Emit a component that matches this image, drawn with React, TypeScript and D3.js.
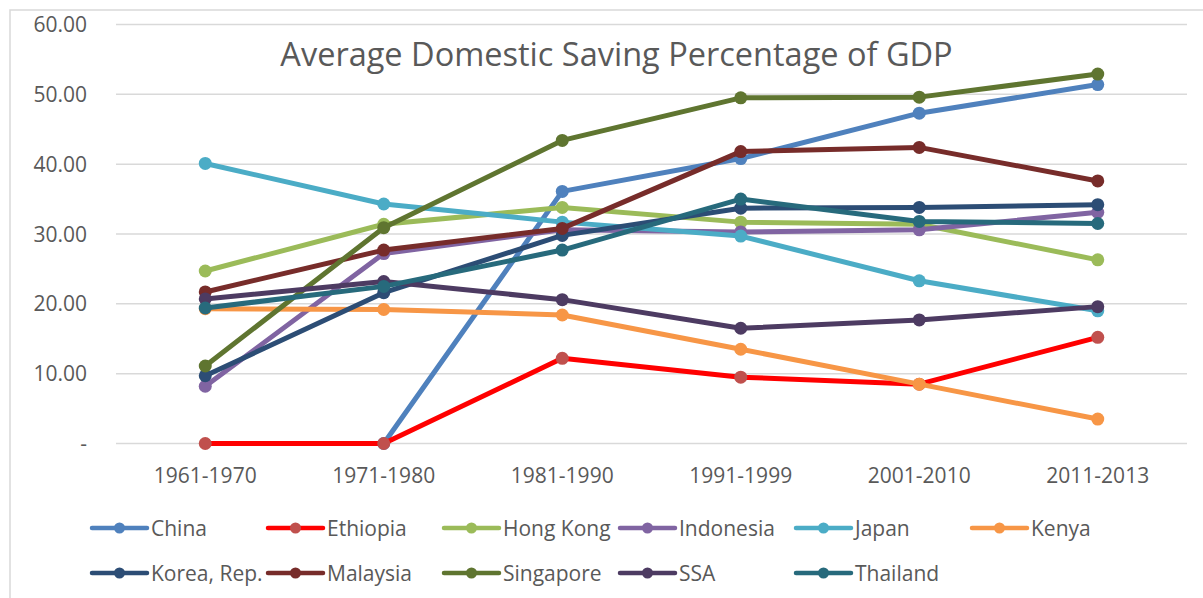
import * as d3 from 'd3'

const PERIODS = ['1961-1970', '1971-1980', '1981-1990', '1991-1999', '2001-2010', '2011-2013']
const SERIES = ['China', 'Ethiopia', 'Hong Kong', 'Indonesia', 'Japan', 'Kenya', 'Korea, Rep.', 'Malaysia', 'Singapore', 'SSA', 'Thailand']

const china = [null, 0, 36.1, 40.8, 47.3, 51.4]
const ethiopia = [0, 0, 12.2, 9.5, 8.5, 15.2]
const hongKong = [24.7, 31.4, 33.8, 31.7, 31.4, 26.3]
const indonesia = [8.2, 27.2, 30.6, 30.3, 30.6, 33.1]
const japan = [40.1, 34.3, 31.7, 29.7, 23.3, 19.0]
const kenya = [19.3, 19.2, 18.4, 13.5, 8.5, 3.5]
const korea = [9.7, 21.6, 29.8, 33.7, 33.8, 34.2]
const malaysia = [21.7, 27.7, 30.8, 41.8, 42.4, 37.6]
const singapore = [11.1, 30.9, 43.4, 49.5, 49.6, 52.9]
const ssa = [20.7, 23.2, 20.6, 16.5, 17.7, 19.6]
const thailand = [19.4, 22.5, 27.7, 35.0, 31.8, 31.5]

const VALUES: (number | null)[][] = [china, ethiopia, hongKong, indonesia, japan, kenya, korea, malaysia, singapore, ssa, thailand]
const Y_TICKS = [0, 10, 20, 30, 40, 50, 60]

const LINE_COLORS = ['#4f81bd', '#ff0000', '#9bbb59', '#8064a2', '#4bacc6', '#f79646', '#2c4d75', '#772c2a', '#5f7530', '#4d3b62', '#276a7c']
const MARKER_COLORS = ['#4f81bd', '#c0504d', '#9bbb59', '#8064a2', '#4bacc6', '#f79646', '#2c4d75', '#772c2a', '#5f7530', '#4d3b62', '#276a7c']

const W = 1203
const H = 598
const PLOT = { left: 116, right: 1187, top: 24.5, bottom: 443.5 }
const FONT = '"Open Sans", sans-serif'
const TEXT = '#595959'
const GRID = '#d9d9d9'

export default function App() {
  const x = d3.scalePoint<string>().domain(PERIODS).range([PLOT.left, PLOT.right]).padding(0.5)
  const y = d3.scaleLinear().domain([0, 60]).range([PLOT.bottom, PLOT.top])

  const line = d3.line<number | null>()
    .defined((d) => d !== null)
    .x((_, i) => x(PERIODS[i]) ?? 0)
    .y((d) => y(d as number))

  return (
    <svg width={W} height={H} style={{ position: 'absolute', left: 0, top: 0, background: '#fff' }}>
      <rect x={10} y={10} width={W} height={H} fill="#fff" stroke={GRID} strokeWidth={1.5} />

      {/* gridlines + y labels */}
      {Y_TICKS.map((t) => (
        <g key={t}>
          <line x1={PLOT.left} x2={PLOT.right} y1={y(t)} y2={y(t)} stroke={GRID} strokeWidth={1.5} />
          <text x={87} y={y(t)} dy="0.36em" textAnchor="end" fill={TEXT} fontFamily={FONT} fontSize={21}>
            {t === 0 ? '-' : d3.format('.2f')(t)}
          </text>
        </g>
      ))}

      {/* x labels */}
      {PERIODS.map((p) => (
        <text key={p} x={x(p)} y={475} dy="0.36em" textAnchor="middle" fill={TEXT} fontFamily={FONT} fontSize={21}>
          {p}
        </text>
      ))}

      <text x={(283 + 950) / 2} y={66} textAnchor="middle" fill={TEXT} fontFamily={FONT} fontSize={32.5}>
        Average Domestic Saving Percentage of GDP
      </text>

      {/* series */}
      {VALUES.map((vals, si) => (
        <g key={SERIES[si]}>
          <path d={line(vals) ?? ''} fill="none" stroke={LINE_COLORS[si]} strokeWidth={5} strokeLinejoin="round" strokeLinecap="round" />
          {vals.map((v, i) =>
            v === null ? null : (
              <circle key={i} cx={x(PERIODS[i])} cy={y(v)} r={6.5} fill={MARKER_COLORS[si]} />
            )
          )}
        </g>
      ))}

      {/* legend */}
      {SERIES.map((s, i) => {
        const col = i % 6
        const row = Math.floor(i / 6)
        const lx = 92 + col * 176
        const ly = 528 + row * 45
        return (
          <g key={s}>
            <line x1={lx} x2={lx + 55} y1={ly} y2={ly} stroke={LINE_COLORS[i]} strokeWidth={4.5} strokeLinecap="round" />
            <circle cx={lx + 27.5} cy={ly} r={5.5} fill={MARKER_COLORS[i]} />
            <text x={lx + 59} y={ly} dy="0.36em" fill={TEXT} fontFamily={FONT} fontSize={21}>
              {s}
            </text>
          </g>
        )
      })}
    </svg>
  )
}
